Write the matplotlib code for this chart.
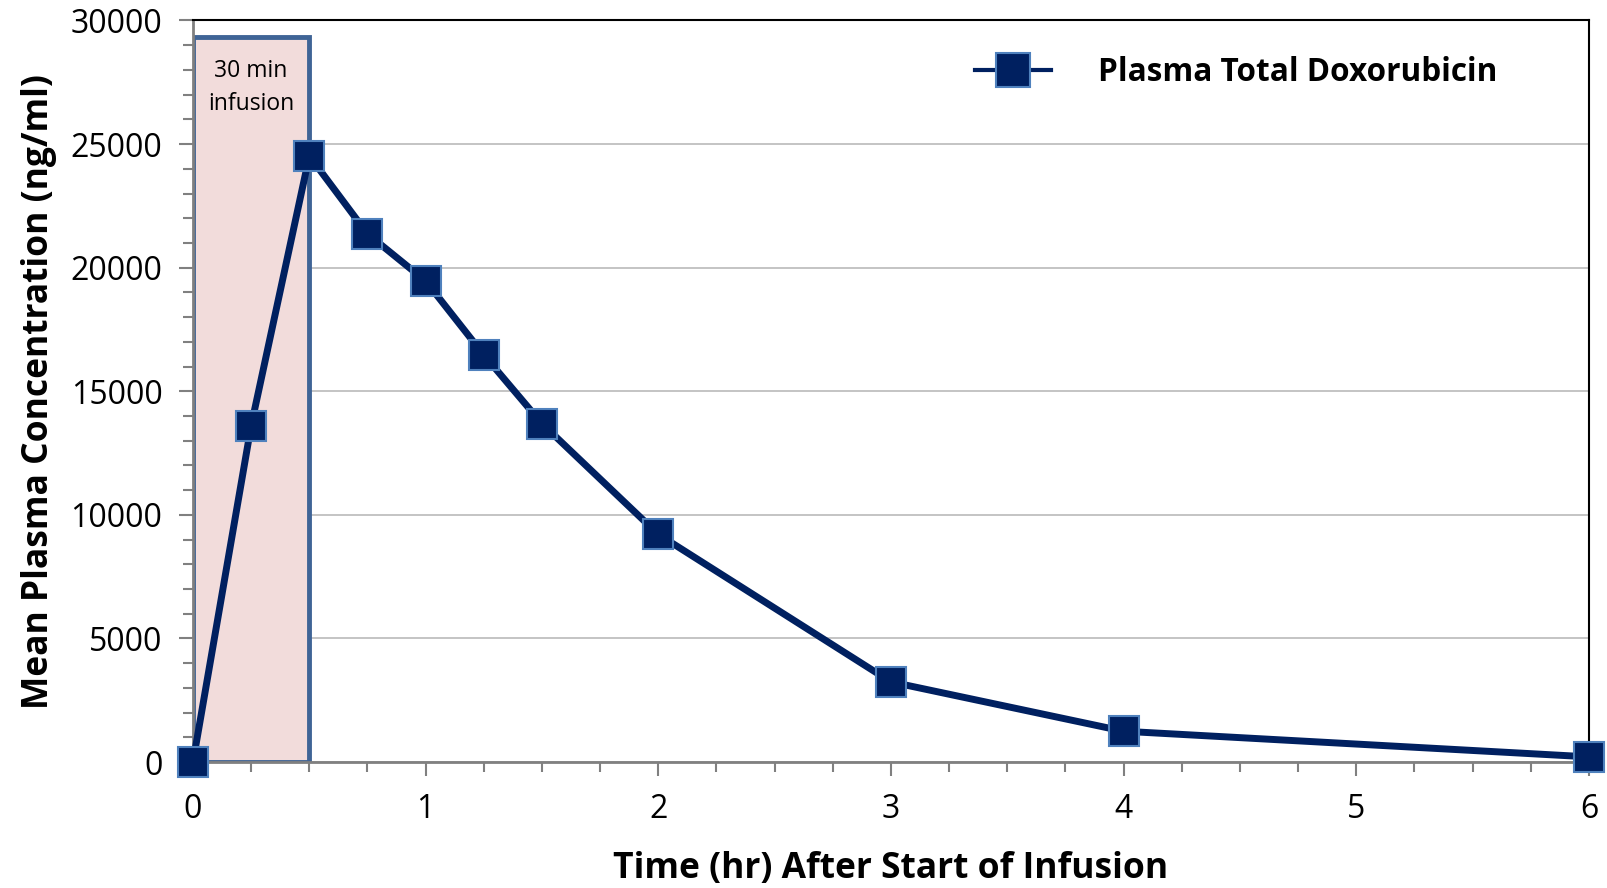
import matplotlib
matplotlib.use("Agg")
import matplotlib.pyplot as plt
from matplotlib.patches import Rectangle
from matplotlib.ticker import MultipleLocator

plt.rcParams["font.family"] = ["Open Sans", "DejaVu Sans"]

time_hr = [0, 0.25, 0.5, 0.75, 1, 1.25, 1.5, 2, 3, 4, 6]
conc = [0, 13610, 24520, 21370, 19460, 16470, 13690, 9210, 3240, 1245, 207]
infusion_end = 0.5
infusion_box_top = 29340

navy = "#002060"
marker_edge = "#4F81BD"

fig = plt.figure(figsize=(16.08, 8.88), dpi=100)
ax = fig.add_axes([193 / 1608, 1 - 762 / 888, (1589 - 193) / 1608, (762 - 20.5) / 888])

ax.add_patch(Rectangle((0, 0), infusion_end, infusion_box_top, facecolor="#F2DCDB",
                       edgecolor="#3F6496", linewidth=3.5, zorder=2))
ax.text(infusion_end / 2, 27300, "30 min\ninfusion", ha="center", va="center",
        fontsize=16.5, linespacing=1.5, zorder=3)

ax.plot(time_hr, conc, color=navy, linewidth=5, marker="s", markersize=21,
        markerfacecolor=navy, markeredgecolor=marker_edge, markeredgewidth=1.5,
        label="Plasma Total Doxorubicin", zorder=4, clip_on=False)

ax.set_xlim(0, 6)
ax.set_ylim(0, 30000)
ax.xaxis.set_major_locator(MultipleLocator(1))
ax.xaxis.set_minor_locator(MultipleLocator(0.25))
ax.yaxis.set_major_locator(MultipleLocator(5000))
ax.yaxis.set_minor_locator(MultipleLocator(1000))
ax.grid(axis="y", which="major", color="#BFBFBF", linewidth=1.3, zorder=0)
ax.set_axisbelow(True)

for side in ("left", "bottom"):
    ax.spines[side].set_color("#808080")
    ax.spines[side].set_linewidth(2)
for side in ("top", "right"):
    ax.spines[side].set_color("black")
    ax.spines[side].set_linewidth(1.5)

ax.tick_params(axis="both", which="major", length=10, width=1.5, color="#808080",
               labelsize=23)
ax.tick_params(axis="x", which="major", pad=12)
ax.tick_params(axis="y", which="major", pad=12)
ax.tick_params(axis="both", which="minor", length=7, width=1.5, color="#808080")

ax.set_xlabel("Time (hr) After Start of Infusion", fontsize=25.5, fontweight="bold", labelpad=18)
ax.set_ylabel("Mean Plasma Concentration (ng/ml)", fontsize=25.5, fontweight="bold", labelpad=10)

leg = ax.legend(loc="upper right", frameon=False, prop={"weight": "bold", "size": 22.7},
                handlelength=2.4, handletextpad=1.5, bbox_to_anchor=(0.955, 0.99),
                markerscale=1.15)
for line in leg.get_lines():
    line.set_linewidth(3)

fig.savefig("out.png", dpi=100)
